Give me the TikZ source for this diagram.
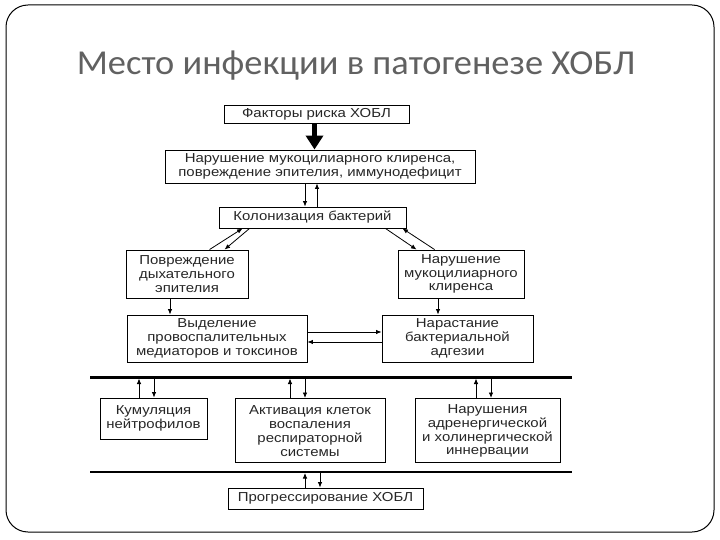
\documentclass[tikz,border=0pt]{standalone}
\usepackage{fontspec}
\setmainfont{Liberation Sans}
\newfontfamily\diag[FakeStretch=1.15]{Liberation Sans}
\newfontfamily\titlefont[FakeStretch=1.04]{Carlito}
\usetikzlibrary{arrows.meta}
\tikzset{
  box/.style={draw=black, line width=0.9pt, inner sep=0pt, align=center,
    font=\diag\fontsize{13pt}{13.8pt}\selectfont, text=black!85},
  arr/.style={line width=0.8pt, -{Latex[length=5.5pt,width=4.5pt]}},
  bigarr/.style={line width=5pt, -{Triangle[length=14pt,width=17pt]}},
  busline/.style={line width=3pt},
  busthin/.style={line width=2pt},
}
\begin{document}
\begin{tikzpicture}[x=1pt,y=-1pt]
\useasboundingbox (0,0) rectangle (720,540);
\draw[line width=1pt, rounded corners=22pt] (6,5) rectangle (714,532);
\node[font=\titlefont\fontsize{35pt}{40pt}\selectfont, text=black!62, anchor=base] (title) at (356,75) {Место инфекции в патогенезе ХОБЛ};

\node[box, minimum width=185pt, minimum height=18pt] (b1) at (316.5,114) {Факторы риска ХОБЛ};
\node[box, minimum width=310pt, minimum height=33pt] (b2) at (320,166.5) {Нарушение мукоцилиарного клиренса,\\повреждение эпителия, иммунодефицит};
\node[box, minimum width=187pt, minimum height=21pt] (b3) at (312.5,217.5) {Колонизация бактерий};
\node[box, minimum width=122pt, minimum height=48pt] (b4) at (187,274) {Повреждение\\дыхательного\\эпителия};
\node[box, minimum width=126pt, minimum height=48pt] (b5) at (461,274) {Нарушение\\мукоцилиарного\\клиренса};
\node[box, minimum width=180pt, minimum height=47pt] (b6) at (217,338.5) {Выделение\\провоспалительных\\медиаторов и токсинов};
\node[box, minimum width=151pt, minimum height=47pt] (b7) at (457.5,338.5) {Нарастание\\бактериальной\\адгезии};
\node[box, minimum width=107pt, minimum height=41pt] (b8) at (153.5,418.5) {Кумуляция\\нейтрофилов};
\node[box, minimum width=150pt, minimum height=64pt, anchor=north] (b9) at (310,398) {\rule{0pt}{10pt}Активация клеток\\воспаления\\респираторной\\системы};
\node[box, minimum width=145pt, minimum height=64pt, anchor=north] (b10) at (487.5,398) {\rule{0pt}{10pt}Нарушения\\адренергической\\и холинергической\\иннервации};
\node[box, minimum width=195pt, minimum height=21pt] (b11) at (325.5,498.5) {Прогрессирование ХОБЛ};

\coordinate (L1w) at (90,377);
\coordinate (L1e) at (572,377);
\coordinate (L2w) at (90,472);
\coordinate (L2e) at (572,472);
\draw[busline] (L1w) -- (L1e);
\draw[busthin] (L2w) -- (L2e);

% thick arrow
\draw[bigarr] ([xshift=-2pt]b1.south) -- ([xshift=-5.5pt]b2.north);

% b2 <-> b3
\draw[arr] ([xshift=-15pt]b2.south) -- ([xshift=-15pt]b2.south |- b3.north);
\draw[arr] ([xshift=-3pt]b2.south |- b3.north) -- ([xshift=-3pt]b2.south);

% diagonals left
\draw[arr] ([xshift=84pt]b4.north west) -- ([xshift=24pt]b3.south west);
\draw[arr] ([xshift=31pt]b3.south west) -- ([xshift=99pt]b4.north west);
% diagonals right
\draw[arr] ([xshift=-21pt]b3.south east) -- ([xshift=19pt]b5.north west);
\draw[arr] ([xshift=37pt]b5.north west) -- ([xshift=-4pt]b3.south east);

% vertical
\draw[arr] ([xshift=-17pt]b4.south) -- ([xshift=-17pt]b4.south |- b6.north);
\draw[arr] ([xshift=-23pt]b5.south) -- ([xshift=-23pt]b5.south |- b7.north);

% b6 <-> b7
\draw[arr] ([yshift=6.5pt]b6.east) -- ([yshift=6.5pt]b6.east -| b7.west);
\draw[arr] ([yshift=-3.5pt]b7.west) -- ([yshift=-3.5pt]b7.west -| b6.east);

% bus arrows
\draw[arr] ([xshift=-14.5pt]b8.north) -- ([xshift=-14.5pt,yshift=-1.5pt]b8.north |- L1w);
\draw[arr] ([xshift=0.5pt,yshift=-1.5pt]b8.north |- L1w) -- ([xshift=0.5pt]b8.north);
\draw[arr] ([xshift=-20pt]b9.north) -- ([xshift=-20pt,yshift=-1.5pt]b9.north |- L1w);
\draw[arr] ([xshift=-5pt,yshift=-1.5pt]b9.north |- L1w) -- ([xshift=-5pt]b9.north);
\draw[arr] ([xshift=-11.5pt]b10.north) -- ([xshift=-11.5pt,yshift=-1.5pt]b10.north |- L1w);
\draw[arr] ([xshift=3.5pt,yshift=-1.5pt]b10.north |- L1w) -- ([xshift=3.5pt]b10.north);
\draw[arr] ([xshift=-20.5pt]b11.north) -- ([xshift=-20.5pt,yshift=-1pt]b11.north |- L2w);
\draw[arr] ([xshift=-5.5pt,yshift=-1pt]b11.north |- L2w) -- ([xshift=-5.5pt]b11.north);
\end{tikzpicture}
\end{document}
